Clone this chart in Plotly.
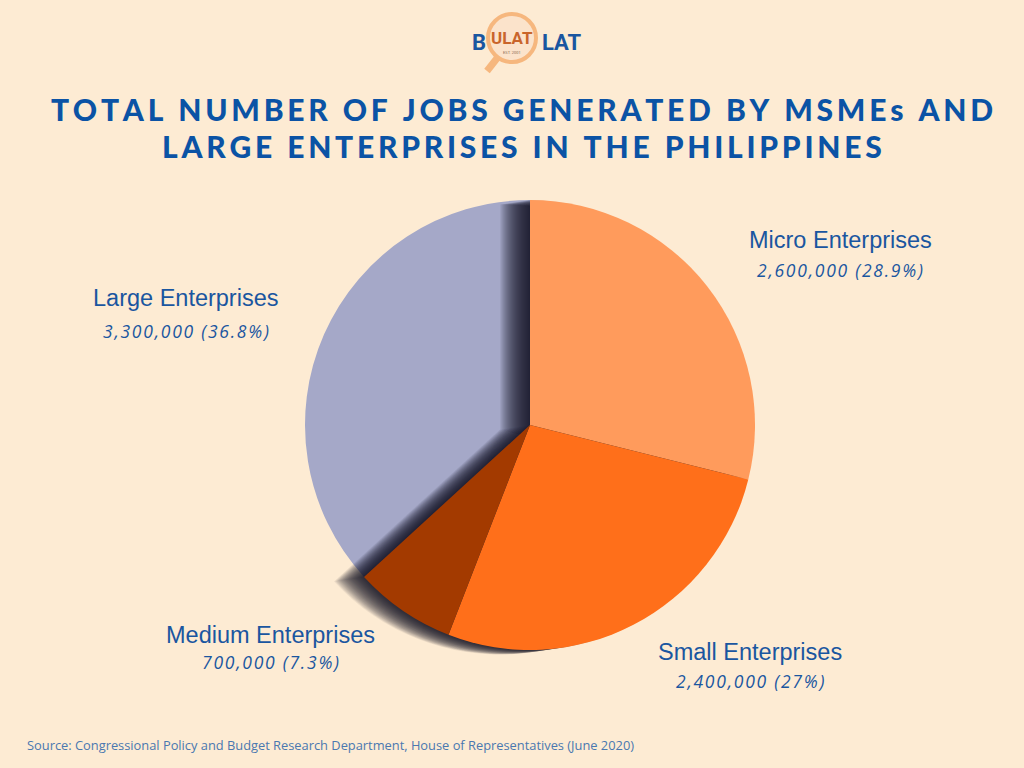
import plotly.graph_objects as go

# data
categories = ["Micro Enterprises", "Small Enterprises", "Medium Enterprises", "Large Enterprises"]
jobs = [2600000, 2400000, 700000, 3300000]
shares = [28.9, 27, 7.3, 36.8]
colors = ["#ff9b5c", "#ff6f1a", "#a33a00", "#a5a8c8"]

W, H = 1024, 768
BG = "#fdebd3"
BLUE = "#1a56a0"

# pie geometry in pixels
cx, cy, r = 530, 425, 225


def dom(dx=0, dy=0):
    x0 = (cx - r + dx) / W
    x1 = (cx + r + dx) / W
    y0 = (H - (cy + r + dy)) / H
    y1 = (H - (cy - r + dy)) / H
    return dict(x=[x0, x1], y=[y0, y1])


def pie(cols, d):
    return go.Pie(
        labels=categories, values=shares, sort=False, direction="clockwise",
        rotation=0, textinfo="none", showlegend=False, domain=d,
        marker=dict(colors=cols, line=dict(width=0)),
        hoverinfo="skip",
    )


fig = go.Figure()
# base: large slice
fig.add_trace(pie(["rgba(0,0,0,0)"] * 3 + [colors[3]], dom()))
# soft shadow cast by the other slices
for k in range(1, 31):
    fig.add_trace(pie(["rgba(20,20,35,0.058)"] * 3 + ["rgba(0,0,0,0)"], dom(-k, 0.15 * k)))
# top: micro, small, medium
fig.add_trace(go.Pie(
    labels=categories, values=shares, sort=False, direction="clockwise",
    rotation=0, textinfo="none", showlegend=False, domain=dom(),
    marker=dict(colors=colors[:3] + ["rgba(0,0,0,0)"], line=dict(width=0)),
    customdata=jobs, hovertemplate="%{label}<br>%{customdata:,}<extra></extra>",
))


def note(x, y, text, font, xanchor="center"):
    fig.add_annotation(x=x / W, y=1 - y / H, xref="paper", yref="paper", text=text,
                       xanchor=xanchor, yanchor="middle", showarrow=False, font=font)


# slice labels
label_pos = [(840, 240, 270), (750, 652, 681), (270, 635, 662), (186, 298, 331)]
value_txt = ["2,600,000 (28.9%)", "2,400,000 (27%)", "700,000 (7.3%)", "3,300,000 (36.8%)"]
for (x, y1, y2), name, val in zip(label_pos, categories, value_txt):
    note(x, y1, name, dict(family="Liberation Sans", size=23.5, color=BLUE))
    note(x, y2, "\u200a".join(val), dict(family="Open Sans", size=17.5, color=BLUE, style="italic"))

# title with wide tracking
t1 = "TOTAL NUMBER OF JOBS GENERATED BY MSMEs AND"
t2 = "LARGE ENTERPRISES IN THE PHILIPPINES"
for txt, y in [(t1, 109), (t2, 146)]:
    spaced = "\u200a\u200a".join(txt).replace("\u200a\u200a \u200a\u200a", "\u2002")
    note(522, y, spaced, dict(family="Lato", size=30, color="#0b53a5", weight=900))

# source
note(25, 745, "Source: Congressional Policy and Budget Research Department, House of Representatives (June 2020)",
     dict(family="Open Sans", size=12.85, color="#4a78b0"), xanchor="left")

# logo
fig.add_shape(type="line", x0=498, y0=57, x1=487, y1=71, xref="x", yref="y",
              line=dict(color="#f6b77e", width=7))
fig.add_shape(type="circle", x0=488, y0=14, x1=536, y1=62, xref="x", yref="y",
              fillcolor="#fbe3cb", line=dict(color="#f6b77e", width=4))
fig.add_annotation(x=479, y=42, xref="x", yref="y", text="<b>B</b>", showarrow=False,
                   font=dict(family="Roboto", size=22, color="#1a56a0"))
fig.add_annotation(x=512, y=38, xref="x", yref="y", text="<b>ULAT</b>", showarrow=False,
                   font=dict(family="Roboto", size=17, color="#c9652b"))
fig.add_annotation(x=512, y=52, xref="x", yref="y", text="EST. 2001", showarrow=False,
                   font=dict(family="Roboto", size=4, color="#8a6a50"))
fig.add_annotation(x=562, y=42, xref="x", yref="y", text="<b>LAT</b>", showarrow=False,
                   font=dict(family="Roboto", size=22, color="#1a56a0"))

fig.update_layout(
    width=W, height=H, margin=dict(l=0, r=0, t=0, b=0),
    paper_bgcolor=BG, plot_bgcolor=BG,
    xaxis=dict(range=[0, W], visible=False, fixedrange=True),
    yaxis=dict(range=[H, 0], visible=False, fixedrange=True),
)
fig.write_html("out.html", config={"displayModeBar": False},
               post_script="document.body.style.margin='0';document.body.style.overflow='hidden';")
